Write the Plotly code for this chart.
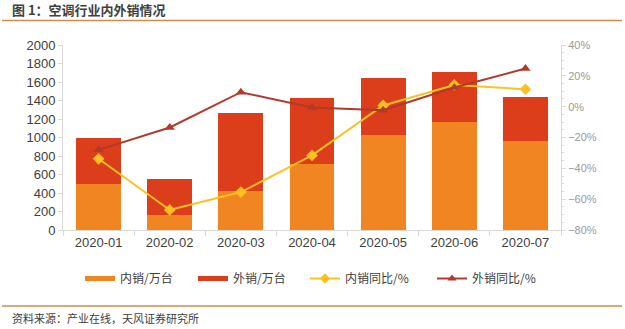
import plotly.graph_objects as go

# Monthly air-conditioner sales (10k units) and year-on-year growth (%)
months = ["2020-01", "2020-02", "2020-03", "2020-04", "2020-05", "2020-06", "2020-07"]
domestic = [492, 157, 420, 713, 1023, 1170, 964]
export = [503, 391, 845, 716, 615, 540, 472]
domestic_yoy = [-33.8, -67.0, -55.4, -31.6, 0.8, 14.1, 11.3]
export_yoy = [-28.0, -13.5, 9.4, -0.5, -2.3, 12.4, 24.7]

W, H = 625, 329
ML, MR, MT, MB = 63, 64, 45, 99
PW = W - ML - MR
PH = H - MT - MB


def px_x(p):
    return (p - ML) / PW


def px_y(p):
    return (H - MB - p) / PH


C_DOM = "#F08522"
C_EXP = "#DC3D1A"
C_DOM_YOY = "#FFC020"
C_EXP_YOY = "#B23A2A"
RULE = "#D48A4E"
CJK = "Noto Sans CJK SC"
LAT = "Liberation Sans, Arial"

fig = go.Figure()

fig.add_trace(go.Bar(x=months, y=domestic, marker=dict(color=C_DOM, line_width=0),
                     name="内销/万台", showlegend=False))
fig.add_trace(go.Bar(x=months, y=export, marker=dict(color=C_EXP, line_width=0),
                     name="外销/万台", showlegend=False))
fig.add_trace(go.Scatter(x=months, y=domestic_yoy, yaxis="y2", mode="lines+markers",
                         line=dict(color=C_DOM_YOY, width=2),
                         marker=dict(symbol="diamond", size=9, color=C_DOM_YOY),
                         name="内销同比/%", showlegend=False))
fig.add_trace(go.Scatter(x=months, y=export_yoy, yaxis="y2", mode="lines+markers",
                         line=dict(color=C_EXP_YOY, width=2),
                         marker=dict(symbol="triangle-up", size=9, color=C_EXP_YOY),
                         name="外销同比/%", showlegend=False))

# Legend keys: wide bars for the volume series, line+marker for growth series,
# each in its own legend box so the four entries sit at fixed positions
fig.add_trace(go.Scatter(x=[None], y=[None], mode="lines", line=dict(color=C_DOM, width=5),
                         name="内销/万台", legend="legend"))
fig.add_trace(go.Scatter(x=[None], y=[None], mode="lines", line=dict(color=C_EXP, width=5),
                         name="外销/万台", legend="legend2"))
fig.add_trace(go.Scatter(x=[None], y=[None], mode="lines+markers", yaxis="y2",
                         line=dict(color=C_DOM_YOY, width=2),
                         marker=dict(symbol="diamond", size=8, color=C_DOM_YOY),
                         name="内销同比/%", legend="legend3"))
fig.add_trace(go.Scatter(x=[None], y=[None], mode="lines+markers", yaxis="y2",
                         line=dict(color=C_EXP_YOY, width=2),
                         marker=dict(symbol="triangle-up", size=8, color=C_EXP_YOY),
                         name="外销同比/%", legend="legend4"))


def legend_box(left_px):
    return dict(
        orientation="h", x=px_x(left_px), y=px_y(264), xanchor="left", yanchor="top",
        font=dict(family=CJK, size=12, color="#404040"),
        itemwidth=30, bgcolor="rgba(0,0,0,0)", traceorder="normal",
    )


fig.update_layout(
    width=W, height=H,
    margin=dict(l=ML, r=MR, t=MT, b=MB),
    paper_bgcolor="white", plot_bgcolor="white",
    barmode="stack", bargap=0.37,
    font=dict(family=LAT, color="#404040"),
    xaxis=dict(
        type="category", showgrid=False, showline=True, linecolor="#D9D9D9", linewidth=1,
        ticks="outside", tickson="boundaries", ticklen=5, tickcolor="#D9D9D9",
        tickfont=dict(family=LAT, size=13, color="#404040"),
    ),
    yaxis=dict(
        range=[0, 2000], dtick=200, showgrid=False, zeroline=False,
        showline=True, linecolor="#D9D9D9", linewidth=1,
        ticks="outside", ticklen=4, tickcolor="#D9D9D9",
        tickfont=dict(family=LAT, size=13, color="#404040"),
    ),
    yaxis2=dict(
        overlaying="y", side="right", range=[-80, 40], dtick=20, ticksuffix="%",
        showgrid=False, zeroline=False, showline=True, linecolor="#D9D9D9", linewidth=1,
        ticks="outside", ticklen=4, tickcolor="#D9D9D9",
        minor=dict(ticks="outside", ticklen=2, tickcolor="#D9D9D9", nticks=5),
        tickfont=dict(family=LAT, size=11, color="#9A9A9A"),
    ),
    legend=legend_box(80),
    legend2=legend_box(193),
    legend3=legend_box(305),
    legend4=legend_box(432),
    annotations=[
        dict(text="<b>图 1：空调行业内外销情况</b>", x=px_x(10), y=px_y(9),
             xref="paper", yref="paper", xanchor="left", yanchor="middle",
             showarrow=False, font=dict(family=CJK, size=13, color="#3F3F3F")),
        dict(text="资料来源：产业在线，天风证券研究所", x=px_x(10), y=px_y(318),
             xref="paper", yref="paper", xanchor="left", yanchor="middle",
             showarrow=False, font=dict(family=CJK, size=11, color="#404040")),
    ],
    shapes=[
        dict(type="line", xref="paper", yref="paper", x0=px_x(2), x1=px_x(622),
             y0=px_y(20.5), y1=px_y(20.5), line=dict(color=RULE, width=1.5)),
        dict(type="line", xref="paper", yref="paper", x0=px_x(2), x1=px_x(622),
             y0=px_y(306), y1=px_y(306), line=dict(color=RULE, width=1.5)),
    ],
)

fig.write_html("out.html")
